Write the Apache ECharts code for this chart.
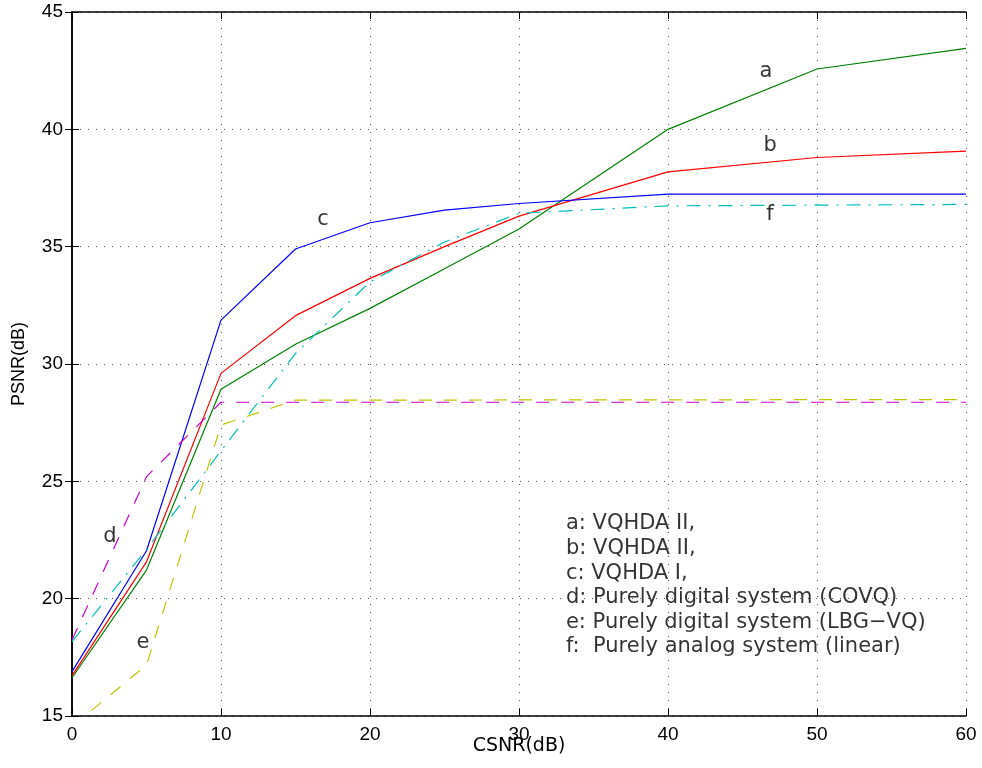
<!DOCTYPE html>
<html>
<head>
<meta charset="utf-8">
<title>PSNR vs CSNR</title>
<script src="https://cdn.jsdelivr.net/npm/echarts@6/dist/echarts.min.js"></script>
<style>
  html, body { margin: 0; padding: 0; background: #fff; }
  #chart { width: 982px; height: 768px; }
</style>
</head>
<body>
<div id="chart"></div>
<script>
// Channel SNR sample points (dB)
const csnr = [0, 5, 10, 15, 20, 25, 30, 40, 50, 60];

// Reconstructed image PSNR (dB) for each scheme
const psnrA = [16.63, 21.22, 28.92, 30.84, 32.37, 34.06, 35.75, 40.00, 42.57, 43.45];
const psnrB = [16.72, 21.57, 29.60, 32.06, 33.65, 35.00, 36.30, 38.19, 38.80, 39.07];
const psnrC = [16.89, 22.04, 31.87, 34.90, 36.02, 36.56, 36.84, 37.24, 37.24, 37.24];
const psnrD = [18.24, 25.20, 28.37, 28.37, 28.37, 28.37, 28.37, 28.37, 28.37, 28.37];
const psnrE = [14.55, 17.17, 27.40, 28.46, 28.46, 28.46, 28.47, 28.47, 28.48, 28.48];
const psnrF = [18.17, 22.10, 26.30, 30.45, 33.50, 35.20, 36.42, 36.74, 36.77, 36.80];

// Curve tags and the key text
const curveTags = ['a', 'b', 'c', 'd', 'e', 'f'];
const keyLines = [
  'a: VQHDA II,',
  'b: VQHDA II,',
  'c: VQHDA I,',
  'd: Purely digital system (COVQ)',
  'e: Purely digital system (LBG\u2212VQ)',
  'f:  Purely analog system (linear)'
];

// Axis ranges
const xRange = { min: 0, max: 60, step: 10 };
const yRange = { min: 15, max: 45, step: 5 };

// Where the tags and key sit, in axis units
const tagSpots = [[46.58, 42.46], [46.85, 39.33], [16.85, 36.14], [2.55, 22.63], [4.77, 18.11], [46.85, 36.35]];
const keyLeft = 33.15;
const keyRows = [23.18, 22.12, 21.09, 20.03, 19.0, 17.94];

const pairs = ys => csnr.map((x, i) => [x, ys[i]]);

const textFont = 'DejaVu Sans';
const tickFont = 'Liberation Sans';

function curve(name, ys, color, type) {
  return {
    name: name,
    type: 'line',
    data: pairs(ys),
    symbol: 'none',
    smooth: false,
    lineStyle: { color: color, width: 1.2, type: type },
    z: 3
  };
}

const chart = echarts.init(document.getElementById('chart'), null, { renderer: 'canvas' });

const axisBlack = { lineStyle: { color: '#000', width: 1.5 } };
const tickIn = { show: true, inside: true, length: 7, lineStyle: { color: '#000', width: 1 } };
const gridDots = { show: true, lineStyle: { color: '#555', width: 1, type: [1, 7] } };

chart.setOption({
  animation: false,
  backgroundColor: '#fff',
  grid: { left: 72, right: 16, top: 12, bottom: 52, containLabel: false, outerBoundsMode: 'none' },
  xAxis: [
    {
      type: 'value', position: 'bottom',
      min: xRange.min, max: xRange.max, interval: xRange.step,
      axisLine: axisBlack, axisTick: tickIn, splitLine: gridDots,
      axisLabel: { color: '#000', fontSize: 19, fontFamily: tickFont, margin: 9 },
      name: 'CSNR(dB)', nameLocation: 'middle', nameGap: 21, nameMoveOverlap: false,
      nameTextStyle: { color: '#000', fontSize: 19, fontFamily: textFont }
    },
    {
      type: 'value', position: 'top',
      min: xRange.min, max: xRange.max, interval: xRange.step,
      axisLine: axisBlack, axisTick: tickIn, splitLine: { show: false },
      axisLabel: { show: false }
    }
  ],
  yAxis: [
    {
      type: 'value', position: 'left',
      min: yRange.min, max: yRange.max, interval: yRange.step,
      axisLine: axisBlack, axisTick: tickIn, splitLine: gridDots,
      axisLabel: { color: '#000', fontSize: 19, fontFamily: tickFont, margin: 9 },
      name: 'PSNR(dB)', nameLocation: 'middle', nameGap: 44, nameRotate: 90, nameMoveOverlap: false,
      nameTextStyle: { color: '#000', fontSize: 18, fontFamily: tickFont }
    },
    {
      type: 'value', position: 'right',
      min: yRange.min, max: yRange.max, interval: yRange.step,
      axisLine: axisBlack, axisTick: tickIn, splitLine: { show: false },
      axisLabel: { show: false }
    }
  ],
  series: [
    curve('a', psnrA, '#008000', 'solid'),
    curve('b', psnrB, '#ff0000', 'solid'),
    curve('c', psnrC, '#0000ff', 'solid'),
    curve('d', psnrD, '#cc00cc', [13, 12]),
    curve('e', psnrE, '#c4c400', [13, 12]),
    curve('f', psnrF, '#00bfbf', [14, 8, 2, 8]),
    {
      name: 'tags',
      type: 'scatter',
      symbolSize: 0,
      silent: true,
      data: tagSpots.map((p, i) => ({ value: p, name: curveTags[i] })),
      label: {
        show: true, position: 'inside', formatter: '{b}',
        color: '#000', fontSize: 21, fontFamily: textFont
      },
      z: 5
    },
    {
      name: 'key',
      type: 'scatter',
      symbolSize: 0,
      silent: true,
      data: keyRows.map((y, i) => ({ value: [keyLeft, y], name: keyLines[i] })),
      label: {
        show: true, position: 'right', distance: 0, align: 'left', formatter: '{b}',
        color: '#000', fontSize: 21, fontFamily: textFont
      },
      z: 5
    }
  ]
});
</script>
</body>
</html>
